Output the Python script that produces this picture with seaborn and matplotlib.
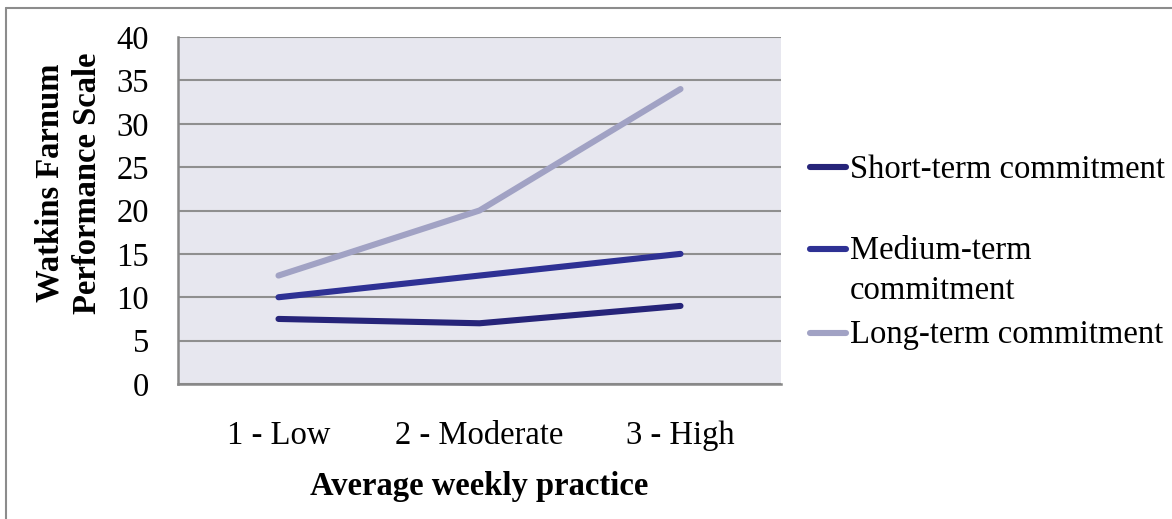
import matplotlib
matplotlib.use("Agg")
import matplotlib.pyplot as plt
from matplotlib.lines import Line2D
import seaborn as sns
import pandas as pd

practice_levels = ["1 - Low", "2 - Moderate", "3 - High"]
short_term = [7.5, 7.0, 9.0]
medium_term = [10.0, 12.5, 15.0]
long_term = [12.5, 20.0, 34.0]
series_names = ["Short-term commitment", "Medium-term\ncommitment", "Long-term commitment"]
series_colors = ["#262479", "#2E3194", "#A1A2C4"]
y_ticks = [0, 5, 10, 15, 20, 25, 30, 35, 40]

rows = []
for name, vals in zip(series_names, [short_term, medium_term, long_term]):
    for i, v in enumerate(vals):
        rows.append({"practice": i, "score": v, "group": name})
df = pd.DataFrame(rows)

sns.set_theme(style="white")
plt.rcParams["font.family"] = ["Liberation Serif", "DejaVu Serif"]
plt.rcParams["text.color"] = "black"
plt.rcParams["xtick.labelcolor"] = "black"
plt.rcParams["ytick.labelcolor"] = "black"
plt.rcParams["axes.labelcolor"] = "black"

FS = 23.5
W, H = 1172, 519

fig = plt.figure(figsize=(W / 100, H / 100), dpi=100)
ax = fig.add_axes([178 / W, 1 - 384 / H, (781 - 178) / W, (384 - 37) / H])
ax.set_facecolor("#E7E7EF")

sns.lineplot(data=df, x="practice", y="score", hue="group", palette=series_colors,
             hue_order=series_names, linewidth=4.4, legend=False, ax=ax,
             solid_capstyle="round", solid_joinstyle="round", zorder=3)

ax.set_xlim(-0.5, 2.5)
ax.set_ylim(0, 40)
ax.set_yticks(y_ticks)
ax.set_xticks([0, 1, 2])
ax.set_xticklabels(practice_levels)
ax.set_xticks([-0.5, 0.5, 1.5, 2.5], minor=True)
ax.tick_params(axis="x", which="major", length=0, pad=26, labelsize=FS)
ax.tick_params(axis="x", which="minor", length=8, width=1.3, color="#888888", direction="out")
ax.tick_params(axis="y", length=8, width=1.3, color="#888888", direction="out", pad=13, labelsize=FS)
ax.grid(axis="y", color="#8F8F8F", linewidth=1.5, zorder=1)
ax.set_axisbelow(True)
for side in ["top", "right"]:
    ax.spines[side].set_visible(False)
for side in ["left", "bottom"]:
    ax.spines[side].set_color("#888888")
    ax.spines[side].set_linewidth(1.8)

ax.set_xlabel("Average weekly practice", fontsize=FS, fontweight="bold", labelpad=15)
ax.set_ylabel("Watkins Farnum\nPerformance Scale", fontsize=FS, fontweight="bold",
              linespacing=1.25)
ax.yaxis.set_label_coords(-0.125, 0.579)

# legend entries drawn in figure pixels
legend_rows = [167, 249, 333]
for name, color, ypix in zip(series_names, series_colors, legend_rows):
    yf = 1 - ypix / H
    fig.add_artist(Line2D([810 / W, 846 / W], [yf, yf], color=color,
                          linewidth=4.4, solid_capstyle="round", transform=fig.transFigure))
    fig.text(850 / W, yf + 13 / H, name, fontsize=FS, va="top", ha="left",
             linespacing=1.38)

# outer frame
fig.add_artist(Line2D([6 / W, 6 / W], [0, 1 - 8 / H], color="#8C8C8C",
                      linewidth=1.5, transform=fig.transFigure))
fig.add_artist(Line2D([6 / W, 1], [1 - 8 / H, 1 - 8 / H], color="#8C8C8C",
                      linewidth=1.5, transform=fig.transFigure))

fig.savefig("out.png", dpi=100)
